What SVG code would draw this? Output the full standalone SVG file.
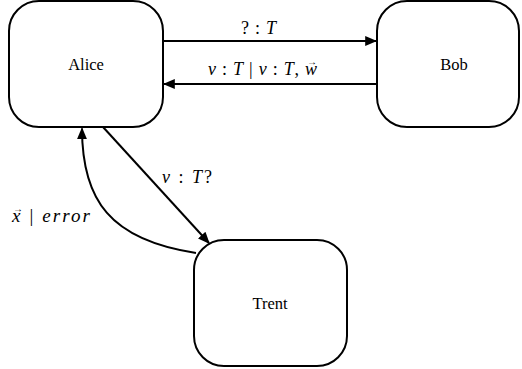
<svg xmlns="http://www.w3.org/2000/svg" width="522" height="369" viewBox="0 0 522 369" font-family="Liberation Serif" style="font-family:'Liberation Serif','Times New Roman',serif">
  <style>
    .node { fill: #ffffff; stroke: #000000; stroke-width: 2; }
    .edge { fill: none; stroke: #000000; stroke-width: 2; }
  </style>
  <defs>
    <marker id="arrow" viewBox="0 0 10 10" refX="9" refY="5" markerWidth="6" markerHeight="6" markerUnits="strokeWidth" orient="auto">
      <path d="M0,0.8 L10,5 L0,9.2 Z" fill="#000000"/>
    </marker>
  </defs>
  <rect width="522" height="369" fill="#ffffff"/>

  <!-- nodes: rounded boxes with a centred name -->
  <g id="alice">
    <rect class="node" x="9" y="1" width="154" height="126" rx="30" ry="30"/>
    <text x="86" y="70" text-anchor="middle" font-family="Liberation Serif" font-size="16.5" fill="#000000">Alice</text>
  </g>
  <g id="bob">
    <rect class="node" x="377" y="1" width="142" height="126" rx="30" ry="30"/>
    <text x="454" y="70" text-anchor="middle" font-family="Liberation Serif" font-size="16.5" fill="#000000">Bob</text>
  </g>
  <g id="trent">
    <rect class="node" x="194" y="240" width="153" height="126" rx="30" ry="30"/>
    <text x="270" y="309" text-anchor="middle" font-family="Liberation Serif" font-size="16.5" fill="#000000">Trent</text>
  </g>

  <!-- messages between the parties -->
  <g id="connectors">
    <line class="edge" x1="163" y1="41" x2="376" y2="41" marker-end="url(#arrow)"/>
    <line class="edge" x1="377" y1="84" x2="164" y2="84" marker-end="url(#arrow)"/>
    <line class="edge" x1="103" y1="127" x2="209" y2="243" marker-end="url(#arrow)"/>
    <path class="edge" d="M196,253 C110,240 82,200 82,128.5" marker-end="url(#arrow)"/>
  </g>

  <g id="labels" font-family="Liberation Serif" fill="#000000">
    <text x="241" y="34" textLength="35" lengthAdjust="spacing" font-family="Liberation Serif" font-size="18">? : <tspan font-style="italic">T</tspan></text>
    <text x="208" y="75" textLength="109" lengthAdjust="spacing" font-family="Liberation Serif" font-size="18"><tspan font-style="italic">v</tspan> : <tspan font-style="italic">T</tspan> | <tspan font-style="italic">v</tspan> : <tspan font-style="italic">T</tspan>, <tspan font-style="italic">w</tspan></text>
    <text x="312" y="65" text-anchor="middle" font-family="Liberation Serif" font-size="10">→</text>
    <text x="162" y="183" textLength="50" lengthAdjust="spacing" font-family="Liberation Serif" font-size="18"><tspan font-style="italic">v</tspan> : <tspan font-style="italic">T</tspan>?</text>
    <text x="12" y="222" textLength="78" lengthAdjust="spacing" font-family="Liberation Serif" font-size="19"><tspan font-style="italic">x</tspan> | <tspan font-style="italic">error</tspan></text>
    <text x="18" y="212" text-anchor="middle" font-family="Liberation Serif" font-size="10">→</text>
  </g>
</svg>
